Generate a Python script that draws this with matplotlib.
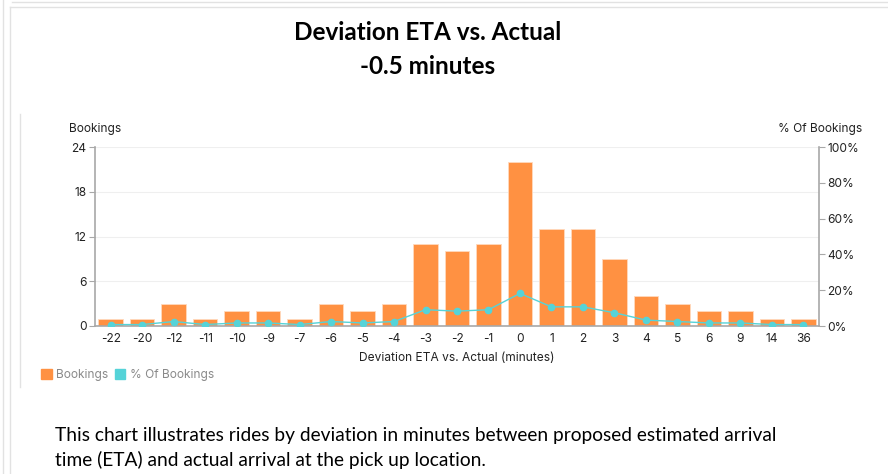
import numpy as np
import matplotlib.pyplot as plt
from matplotlib.lines import Line2D
from matplotlib.patches import Patch
from matplotlib.ticker import FuncFormatter

# deviation buckets (minutes) and counts
categories = ['-22', '-20', '-12', '-11', '-10', '-9', '-7', '-6', '-5', '-4', '-3', '-2',
              '-1', '0', '1', '2', '3', '4', '5', '6', '9', '14', '36']
bookings = [1, 1, 3, 1, 2, 2, 1, 3, 2, 3, 11, 10, 11, 22, 13, 13, 9, 4, 3, 2, 2, 1, 1]
pct_bookings = [0.8, 0.8, 2.5, 0.8, 1.7, 1.7, 0.8, 2.5, 1.7, 2.5, 9.1, 8.3, 9.1, 18.2,
                10.7, 10.7, 7.4, 3.3, 2.5, 1.7, 1.7, 0.8, 0.8]

bar_color = '#ff9142'
line_color = '#55d3d8'
axis_grey = '#a8a8a8'
text_col = '#222222'
ui_font = 'Inter'
doc_font = 'Lato'
fs = 8.6

fig = plt.figure(figsize=(8.88, 4.74), dpi=100)

ax1 = fig.add_axes([95 / 888, 1 - 326 / 474, (819 - 95) / 888, (326 - 147) / 474])
x = np.arange(len(categories))
ax1.bar(x, bookings, width=0.78, color=bar_color, edgecolor='#ffd9bd', linewidth=0.6, zorder=2)
ax1.set_xlim(-0.5, len(categories) - 0.5)
ax1.set_ylim(0, 24)
ax1.set_yticks([0, 6, 12, 18, 24])
ax1.set_xticks(x)
ax1.set_xticklabels(categories)
ax1.grid(axis='y', color='#efefef', linewidth=0.8, zorder=0)
ax1.set_axisbelow(True)
for s in ['top', 'right']:
    ax1.spines[s].set_visible(False)
ax1.spines['left'].set_color(axis_grey)
ax1.spines['bottom'].set_color(axis_grey)
ax1.spines['left'].set_linewidth(1.2)
ax1.spines['bottom'].set_linewidth(1.2)
ax1.tick_params(axis='y', colors=axis_grey, labelcolor=text_col, labelsize=fs, length=4, pad=2)
ax1.tick_params(axis='x', length=0, labelcolor=text_col, labelsize=fs, pad=5)
for lbl in ax1.get_xticklabels() + ax1.get_yticklabels():
    lbl.set_fontfamily(ui_font)
ax1.set_xlabel('Deviation ETA vs. Actual (minutes)', fontsize=fs, family=ui_font,
               color=text_col, labelpad=5)

ax2 = ax1.twinx()
ax2.plot(x, pct_bookings, color=line_color, linewidth=1.0, marker='o', markersize=4.5, zorder=3)
ax2.set_ylim(0, 100)
ax2.set_yticks([0, 20, 40, 60, 80, 100])
ax2.yaxis.set_major_formatter(FuncFormatter(lambda v, p: f'{v:.0f}%'))
for s in ['top', 'left', 'bottom']:
    ax2.spines[s].set_visible(False)
ax2.spines['right'].set_color(axis_grey)
ax2.spines['right'].set_linewidth(1.2)
ax2.tick_params(axis='y', colors=axis_grey, labelcolor=text_col, labelsize=fs, length=4, pad=2)
for lbl in ax2.get_yticklabels():
    lbl.set_fontfamily(ui_font)

fig.text(69 / 888, 1 - 129 / 474, 'Bookings', fontsize=fs, family=ui_font, color=text_col,
         va='center', ha='left')
fig.text(862 / 888, 1 - 129 / 474, '% Of Bookings', fontsize=fs, family=ui_font,
         color=text_col, va='center', ha='right')

handles = [Patch(color=bar_color, label='Bookings'), Patch(color=line_color, label='% Of Bookings')]
leg = fig.legend(handles=handles, loc='center left', bbox_to_anchor=(30 / 888, 1 - 375 / 474),
                 ncol=2, frameon=False, prop={'family': ui_font, 'size': fs},
                 handlelength=0.9, handleheight=0.9, handletextpad=0.4, columnspacing=0.5)
for t in leg.get_texts():
    t.set_color('#8a8a8a')

# titles and caption
fig.text(428 / 888, 1 - 33 / 474, 'Deviation ETA vs. Actual', fontsize=17.5, weight='bold',
         family=doc_font, ha='center', va='center')
fig.text(428 / 888, 1 - 66 / 474, '-0.5 minutes', fontsize=17.5, weight='bold',
         family=doc_font, ha='center', va='center')
fig.text(55 / 888, 1 - 436 / 474,
         'This chart illustrates rides by deviation in minutes between proposed estimated arrival',
         fontsize=13.8, family=doc_font, ha='left', va='center')
fig.text(55 / 888, 1 - 460 / 474,
         'time (ETA) and actual arrival at the pick up location.',
         fontsize=13.8, family=doc_font, ha='left', va='center')

# page frame lines
frame = '#e2e2e2'
fig.add_artist(Line2D([3 / 888, 3 / 888], [0, 1], color=frame, linewidth=1))
fig.add_artist(Line2D([10 / 888, 10 / 888], [0, 1 - 7 / 474], color=frame, linewidth=1))
fig.add_artist(Line2D([12 / 888, 1], [1 - 2 / 474, 1 - 2 / 474], color=frame, linewidth=1))
fig.add_artist(Line2D([10 / 888, 1], [1 - 7 / 474, 1 - 7 / 474], color=frame, linewidth=1))
fig.add_artist(Line2D([20 / 888, 20 / 888], [1 - 387 / 474, 1 - 114 / 474], color=frame, linewidth=1))

fig.savefig('out.png', dpi=100)
